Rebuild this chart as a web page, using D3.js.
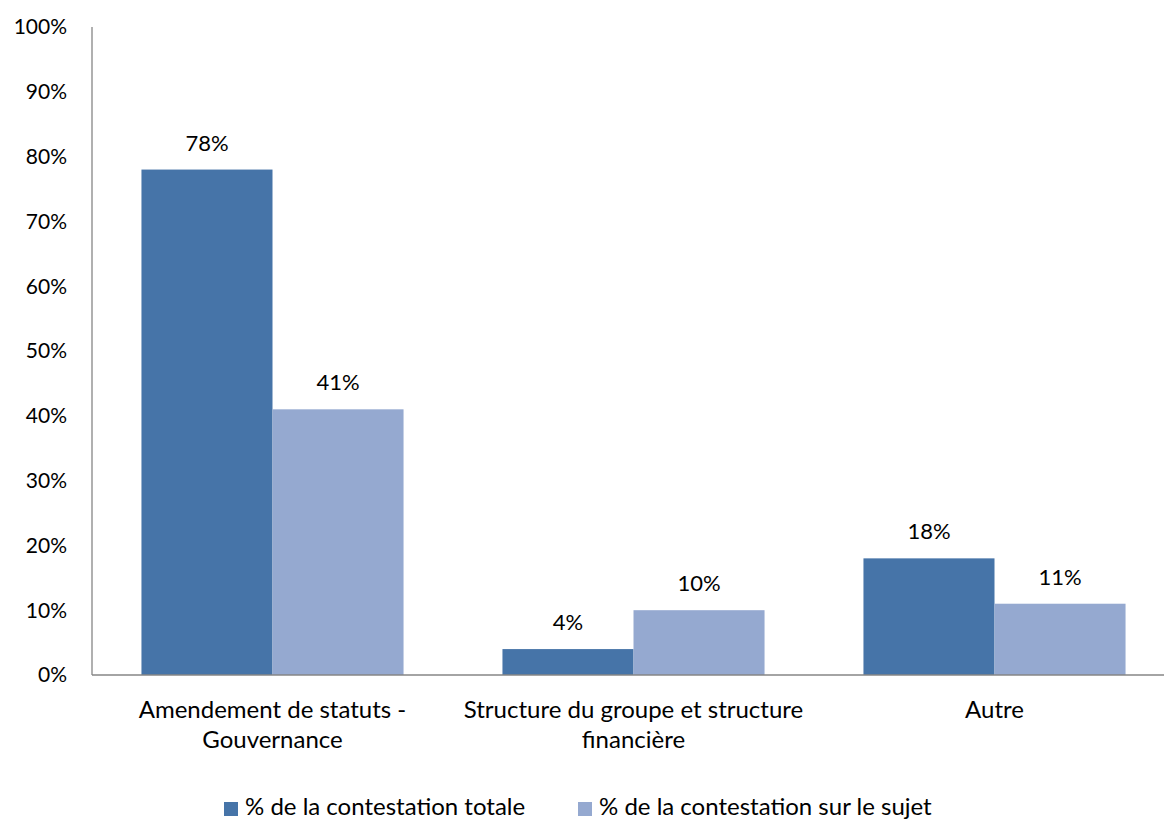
<!DOCTYPE html>
<html>
<head>
<meta charset="utf-8">
<script src="https://cdn.jsdelivr.net/npm/d3@7"></script>
<style>
  html, body { margin: 0; padding: 0; background: #fff; }
  svg { display: block; font-family: Lato, "Open Sans", sans-serif; }
</style>
</head>
<body>
<svg id="chart" width="1164" height="819"></svg>
<script>
// Categories (each may wrap over two lines)
const categories = [
  ["Amendement de statuts -", "Gouvernance"],
  ["Structure du groupe et structure", "financière"],
  ["Autre"]
];
const seriesNames = ["% de la contestation totale", "% de la contestation sur le sujet"];
const totalShare = [78, 4, 18];
const topicShare = [41, 10, 11];
const yTicks = [0, 10, 20, 30, 40, 50, 60, 70, 80, 90, 100];

const colors = ["#4674A8", "#95A9D0"];
const svg = d3.select("#chart");

const x0 = 92, x1 = 1175, yBase = 675, yTop = 27;
const fs = 21;

const x = d3.scaleBand()
  .domain(d3.range(categories.length))
  .range([x0, x1])
  .paddingInner(0.274)
  .paddingOuter(0.137);

const xs = d3.scaleBand()
  .domain([0, 1])
  .range([0, x.bandwidth()]);

const y = d3.scaleLinear().domain([0, 100]).range([yBase, yTop]);

// Y axis labels (no tick marks)
svg.append("g").selectAll("text")
  .data(yTicks)
  .join("text")
  .attr("x", 67)
  .attr("y", d => y(d))
  .attr("dy", "0.35em")
  .attr("text-anchor", "end")
  .attr("font-size", fs)
  .attr("fill", "#000")
  .text(d => d + "%");

// Bars and value labels
const series = [totalShare, topicShare];
series.forEach((vals, si) => {
  svg.append("g").selectAll("rect")
    .data(vals)
    .join("rect")
    .attr("x", (d, i) => x(i) + xs(si))
    .attr("y", d => y(d))
    .attr("width", xs.bandwidth())
    .attr("height", d => y(0) - y(d))
    .attr("fill", colors[si]);

  svg.append("g").selectAll("text")
    .data(vals)
    .join("text")
    .attr("x", (d, i) => x(i) + xs(si) + xs.bandwidth() / 2)
    .attr("y", d => y(d) - 19)
    .attr("text-anchor", "middle")
    .attr("font-size", 22)
    .attr("fill", "#000")
    .text(d => d + "%");
});

// Axis lines
svg.append("line")
  .attr("x1", x0).attr("x2", x0)
  .attr("y1", yTop).attr("y2", yBase)
  .attr("stroke", "#868686").attr("stroke-width", 1.3);
svg.append("line")
  .attr("x1", x0).attr("x2", 1164)
  .attr("y1", yBase).attr("y2", yBase)
  .attr("stroke", "#868686").attr("stroke-width", 1.3);

// Category labels
const catG = svg.append("g");
categories.forEach((lines, i) => {
  const t = catG.append("text")
    .attr("x", x(i) + x.bandwidth() / 2)
    .attr("y", 718)
    .attr("text-anchor", "middle")
    .attr("font-size", 24)
    .attr("fill", "#000");
  lines.forEach((ln, k) => {
    t.append("tspan")
      .attr("x", x(i) + x.bandwidth() / 2)
      .attr("dy", k === 0 ? 0 : 30)
      .text(ln);
  });
});

// Legend
const legendX = [224, 578];
seriesNames.forEach((name, si) => {
  const g = svg.append("g");
  g.append("rect")
    .attr("x", legendX[si]).attr("y", 802)
    .attr("width", 14).attr("height", 14)
    .attr("fill", colors[si]);
  g.append("text")
    .attr("x", legendX[si] + 21)
    .attr("y", 815)
    .attr("font-size", 24)
    .attr("fill", "#000")
    .text(name);
});
</script>
</body>
</html>
